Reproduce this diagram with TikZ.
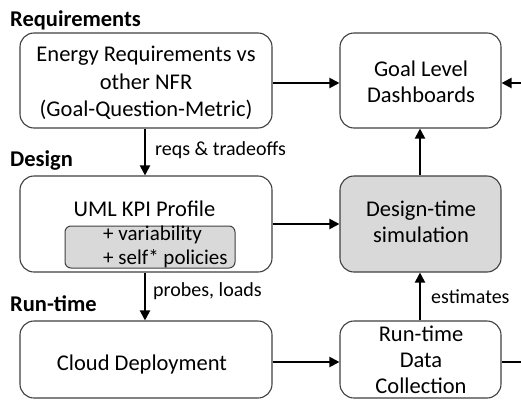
\documentclass[tikz,border=0pt]{standalone}
\usepackage{fontspec}
\setmainfont{Carlito}
\usetikzlibrary{arrows.meta}
\definecolor{edge}{HTML}{404040}
\definecolor{shade}{HTML}{D9D9D9}
\tikzset{
  x=1pt, y=-1pt,
  block/.style={draw=edge, line width=1.1pt, rounded corners=14pt, inner sep=0pt},
  wide/.style={block, minimum width=252pt},
  narrow/.style={block, minimum width=161pt},
  inner/.style={draw=edge, line width=1pt, fill=shade, rounded corners=6pt,
    minimum width=170pt, minimum height=42pt, inner sep=0pt},
  txt/.style={font=\fontsize{22.5}{27}\selectfont, anchor=base, inner sep=0pt},
  small/.style={font=\fontsize{21}{24}\selectfont, anchor=base west, inner sep=0pt},
  flow/.style={line width=2pt, -{Triangle[length=10pt,width=10pt]}},
  lbl/.style={font=\fontsize{20}{24}\selectfont, anchor=base west, inner sep=0pt},
  phase/.style={font=\bfseries\fontsize{22.5}{26}\selectfont, anchor=base west, inner sep=0pt}
}
\begin{document}
\begin{tikzpicture}
\useasboundingbox (0,0) rectangle (521,399);
\fill[white] (0,0) rectangle (521,399);

% phase headings
\node[phase] (hreq) at (10,26) {Requirements};
\node[phase] (hdes) at (10,166.5) {Design};
\node[phase] (hrun) at (10,311.5) {Run-time};

% requirements row
\node[wide, minimum height=95pt] (req) at (146,80.5) {};
\node[txt] (req1) at (146,61.7) {Energy Requirements vs};
\node[txt] (req2) at (146,89) {other NFR};
\node[txt] (req3) at (146,116) {(Goal-Question-Metric)};
\node[narrow, minimum height=95pt] (goal) at (420.5,80.5) {};
\node[txt] (goal1) at (421,76.7) {Goal Level};
\node[txt] (goal2) at (421,102.7) {Dashboards};

% design row
\node[wide, minimum height=96pt] (uml) at (146,224) {};
\node[txt] (uml1) at (144.5,216) {UML KPI Profile};
\node[inner] (ext) at (150,247) {};
\node[small] (ext1) at (103,240) {+ variability};
\node[small] (ext2) at (103,264) {+ self* policies};
\node[narrow, minimum height=96pt, fill=shade] (sim) at (420.5,224) {};
\node[txt] (sim1) at (421,216.7) {Design-time};
\node[txt] (sim2) at (421,242.7) {simulation};

% run-time row
\node[wide, minimum height=77pt] (cloud) at (146,359.5) {};
\node[txt] (cloud1) at (142,370) {Cloud Deployment};
\node[narrow, minimum height=77pt] (rdc) at (420.5,359.5) {};
\node[txt] (rdc1) at (421,341) {Run-time};
\node[txt] (rdc2) at (421,367) {Data};
\node[txt] (rdc3) at (421,393) {Collection};

% links leaving the page on the right
\coordinate (inR) at (521,83);
\coordinate (outR) at (521,362);

% horizontal flows
\draw[flow] (req.east |- inR) -- (goal.west |- inR);
\draw[flow] (inR) -- (goal.east |- inR);
\draw[flow] (uml.east |- 0,224) -- (sim.west |- 0,224);
\draw[flow] (cloud.east |- outR) -- (rdc.west |- outR);
\draw[line width=2pt] (rdc.east |- outR) -- (outR);

% vertical flows
\draw[flow] (req.south -| 145,0) -- (uml.north -| 145,0);
\draw[flow] (uml.south -| 145,0) -- (cloud.north -| 145,0);
\draw[flow] (sim.north -| 420,0) -- (goal.south -| 420,0);
\draw[flow] (rdc.north -| 420,0) -- (sim.south -| 420,0);

% flow labels
\node[lbl] (l1) at (155,155) {reqs \& tradeoffs};
\node[lbl] (l2) at (153,296.7) {probes, loads};
\node[lbl] (l3) at (431,303.3) {estimates};
\end{tikzpicture}
\end{document}
